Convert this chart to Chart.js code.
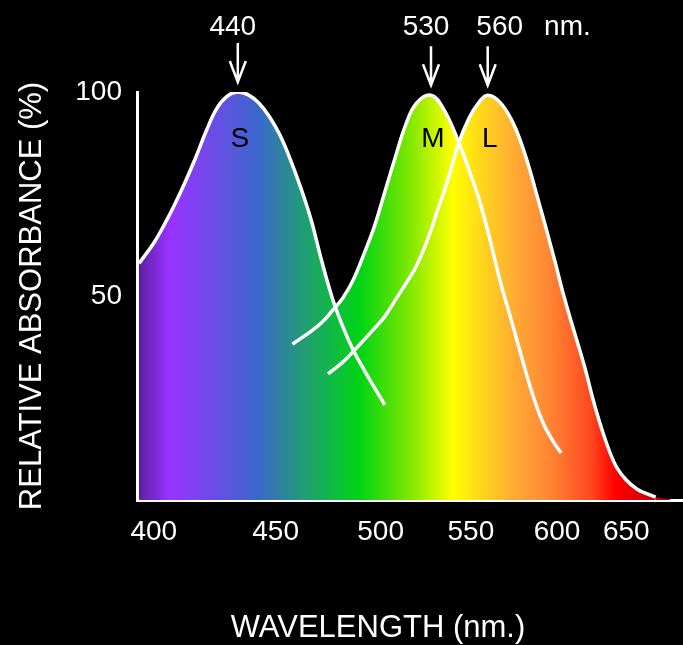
<!DOCTYPE html>
<html>
<head>
<meta charset="utf-8">
<script src="https://cdn.jsdelivr.net/npm/chart.js@4.4.0/dist/chart.umd.min.js"></script>
<style>
html, body { margin: 0; padding: 0; background: #000; }
canvas { display: block; }
</style>
</head>
<body>
<canvas id="coneChart" width="683" height="645"></canvas>
<script>
// absorbance curves of the three cone pigments (nm, %)
var sNm  = [393, 400, 405, 410, 415, 420, 425, 430, 435, 440, 445, 450, 455, 460, 465, 470, 475, 480, 485, 490, 495, 500, 505, 510];
var sAbs = [58, 63, 67.5, 72.5, 78, 84, 90.5, 96, 99, 100, 99.3, 97.3, 94, 89.5, 83.5, 76.5, 68.5, 58.5, 49.5, 42.5, 36.7, 32, 27.6, 23.3];

var mNm  = [466, 470, 475, 480, 485, 490, 495, 500, 505, 510, 515, 520, 525, 532, 538, 545, 550, 555, 560, 565, 570, 575, 580, 585, 590, 594];
var mAbs = [38.2, 39.6, 41.4, 43.5, 46.4, 49.5, 54, 60.2, 67, 75.5, 84, 92, 97.2, 99.2, 95.8, 88, 81, 73.5, 64, 53.5, 44.5, 35.3, 26.5, 19.3, 14.5, 11.5];

var lNm  = [483, 490, 495, 500, 505, 510, 515, 520, 525, 530, 535, 540, 545, 550, 555, 559, 565, 571, 575, 579, 583, 587, 591, 595, 600, 605, 610, 615, 620, 625, 630, 635, 639];
var lAbs = [30.9, 33.8, 36.4, 39.2, 42, 45, 49, 53, 57.3, 63.3, 70.8, 78.4, 87.2, 93.5, 97.6, 99.2, 97.4, 92.5, 87.4, 81, 73.6, 66.2, 58.5, 50.5, 41.6, 32.9, 23.1, 14.8, 8.4, 4.9, 2.7, 1.5, 0.7];

// the coloured area runs on a little past the end of the L line
var tailNm  = [639, 642, 646];
var tailAbs = [0.7, 0.45, 0.2];

var coneNames  = ['S', 'M', 'L'];
var peakLabels = ['440', '530', '560'];
var peakUnit   = 'nm.';

// the bottom labels are not evenly spaced in the drawing
var xTickNm     = [400, 458, 508, 551, 592, 625];
var xTickLabels = ['400', '450', '500', '550', '600', '650'];
var yTickValues = [50, 100];

var FONT = '"Liberation Sans", Arial, Helvetica, sans-serif';

var spectrumStops = [
    [0.000, '#5a1fa0'],
    [0.060, '#9933ff'],
    [0.220, '#3c66cc'],
    [0.311, '#1fa070'],
    [0.408, '#00d414'],
    [0.500, '#80e800'],
    [0.579, '#ffff00'],
    [0.639, '#ffd020'],
    [0.701, '#ffa535'],
    [0.749, '#ff8a35'],
    [0.830, '#ff4a20'],
    [0.877, '#ff0000'],
    [0.958, '#c00000'],
    [1.000, '#900000']
];

var spectrum = null;
var spectrumFill = function(context) {
    var chart = context.chart;
    var area = chart.chartArea;
    if (!area) return 'transparent';
    if (!spectrum) {
        spectrum = chart.ctx.createLinearGradient(area.left, 0, area.right, 0);
        spectrumStops.forEach(function(s) { spectrum.addColorStop(s[0], s[1]); });
    }
    return spectrum;
};

var toPoints = function(xs, ys) {
    return xs.map(function(x, i) { return {x: x, y: ys[i]}; });
};

var curve = function(name, xs, ys) {
    return {
        label: name,
        data: toPoints(xs, ys),
        borderColor: '#ffffff',
        borderWidth: 3.5,
        backgroundColor: spectrumFill,
        fill: 'origin',
        pointRadius: 0,
        tension: 0.4
    };
};

var labelShift = [-5, -5, 12];

var peakMarks = {
    id: 'peakMarks',
    afterDatasetsDraw: function(chart) {
        var ctx = chart.ctx;
        var xs = chart.scales.x, ys = chart.scales.y;
        var curves = [[sNm, sAbs], [mNm, mAbs], [lNm, lAbs]];
        var lastRight = 0;
        ctx.save();
        ctx.font = '28px ' + FONT;
        ctx.textAlign = 'center';
        ctx.textBaseline = 'alphabetic';
        curves.forEach(function(c, i) {
            var k = c[1].indexOf(Math.max.apply(null, c[1]));
            var px = xs.getPixelForValue(c[0][k]);
            var py = ys.getPixelForValue(c[1][k]);
            var tip = py - 10;
            ctx.strokeStyle = '#ffffff';
            ctx.lineWidth = 2.5;
            ctx.beginPath();
            ctx.moveTo(px, tip - 39);
            ctx.lineTo(px, tip);
            ctx.moveTo(px - 8, tip - 21);
            ctx.lineTo(px, tip);
            ctx.lineTo(px + 8, tip - 21);
            ctx.stroke();

            ctx.fillStyle = '#ffffff';
            var lx = px + labelShift[i];
            ctx.fillText(peakLabels[i], lx, 35);
            lastRight = lx + ctx.measureText(peakLabels[i]).width / 2;

            ctx.fillStyle = '#000000';
            ctx.fillText(coneNames[i], px + 2, 147);
        });
        ctx.fillStyle = '#ffffff';
        ctx.textAlign = 'left';
        ctx.fillText(peakUnit, lastRight + 21, 35);

        ctx.font = '31px ' + FONT;
        ctx.textAlign = 'center';
        ctx.fillText('WAVELENGTH (nm.)', 378, 637);
        ctx.restore();
    }
};

var ctx = document.getElementById('coneChart').getContext('2d');

var coneChart = new Chart(ctx, {
    type: 'line',
    data: {
        datasets: [
            curve('S', sNm, sAbs),
            curve('M', mNm, mAbs),
            curve('L', lNm, lAbs),
            {
                label: 'tail',
                data: toPoints(tailNm, tailAbs),
                borderWidth: 0,
                borderColor: 'transparent',
                backgroundColor: spectrumFill,
                fill: 'origin',
                pointRadius: 0
            }
        ]
    },
    options: {
        responsive: false,
        animation: false,
        events: [],
        layout: { padding: { top: 92, left: 0, right: 0, bottom: 0 } },
        plugins: {
            legend: { display: false },
            tooltip: { enabled: false },
            filler: { drawTime: 'beforeDatasetsDraw' }
        },
        scales: {
            x: {
                type: 'linear',
                min: 392,
                max: 652,
                grid: { display: false, drawTicks: false, tickLength: 0 },
                border: { display: true, color: '#ffffff', width: 3 },
                afterBuildTicks: function(scale) {
                    scale.ticks = xTickNm.map(function(v) { return {value: v}; });
                },
                afterFit: function(scale) { scale.height = 145; },
                ticks: {
                    color: '#ffffff',
                    font: { family: FONT, size: 28 },
                    padding: 15,
                    autoSkip: false,
                    maxRotation: 0,
                    callback: function(value, index) { return xTickLabels[index]; }
                }
            },
            y: {
                type: 'linear',
                min: 0,
                max: 100,
                grid: { display: false, drawTicks: false, tickLength: 0 },
                border: { display: true, color: '#ffffff', width: 3 },
                afterBuildTicks: function(scale) {
                    scale.ticks = yTickValues.map(function(v) { return {value: v}; });
                },
                afterFit: function(scale) { scale.width = 137; },
                ticks: {
                    color: '#ffffff',
                    font: { family: FONT, size: 28 },
                    padding: 15
                },
                title: {
                    display: true,
                    text: 'RELATIVE ABSORBANCE (%)',
                    color: '#ffffff',
                    font: { family: FONT, size: 31 },
                    padding: { top: 14, bottom: 0 }
                }
            }
        }
    },
    plugins: [peakMarks]
});
</script>
</body>
</html>
